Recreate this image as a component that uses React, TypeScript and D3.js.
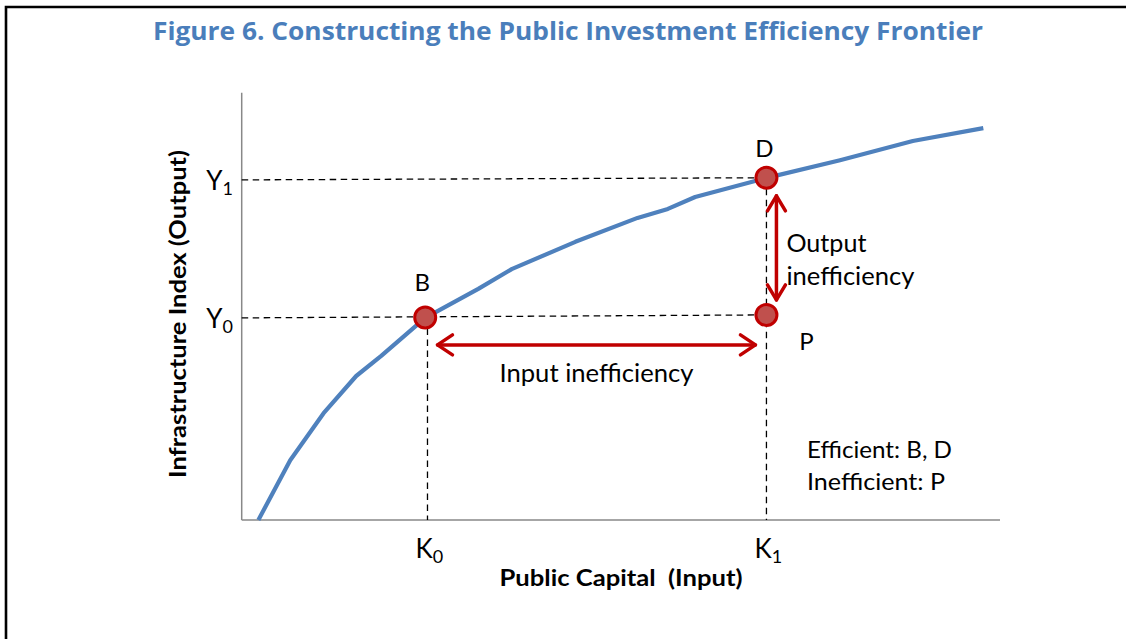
import React from "react";
import * as d3 from "d3";

// ---- data (abstract units) ----
const frontierX = [2.2, 6.4, 10.8, 15.1, 18.4, 24.2, 31.2, 35.6, 44.0, 52.2, 56.2, 59.8, 69.1, 78.9, 88.5, 97.8];
const frontierY = [0, 14.0, 25.0, 33.7, 38.4, 47.3, 54.1, 58.7, 65.1, 70.7, 72.8, 75.6, 80.0, 84.2, 88.7, 91.7];

const pointNames = ["B", "P", "D"];
const pointX = [24.2, 69.2, 69.2];
const pointY = [47.4, 48.0, 80.1];

const xTickNames = ["K", "K"];
const xTickSubs = ["0", "1"];
const xTickValues = [24.5, 69.2];
const yTickNames = ["Y", "Y"];
const yTickSubs = ["0", "1"];
const yTickValues = [47.3, 79.6];

const title = "Figure 6. Constructing the Public Investment Efficiency Frontier";
const xAxisTitle = "Public Capital  (Input)";
const yAxisTitle = "Infrastructure Index (Output)";
const legendLines = ["Efficient: B, D", "Inefficient: P"];

const W = 1126;
const H = 639;
const FONT = "Lato, 'Open Sans', sans-serif";
const RED = "#C00000";
const BLUE = "#4F81BD";

export default function App() {
  const x = d3.scaleLinear().domain([0, 100]).range([241.7, 1000]);
  const y = d3.scaleLinear().domain([0, 100]).range([520, 92.7]);

  const line = d3
    .line<number>()
    .x((_, i) => x(frontierX[i]))
    .y((_, i) => y(frontierY[i]))
    .curve(d3.curveLinear);

  const B = { x: x(pointX[0]), y: y(pointY[0]) };
  const P = { x: x(pointX[1]), y: y(pointY[1]) };
  const D = { x: x(pointX[2]), y: y(pointY[2]) };
  const K0 = x(xTickValues[0]);
  const K1 = x(xTickValues[1]);
  const Y0 = y(yTickValues[0]);
  const Y1 = y(yTickValues[1]);

  // input arrow
  const iaY = Y0 + 27;
  const iaX1 = K0 + 10;
  const iaX2 = K1 - 11;
  // output arrow
  const oaX = K1 + 10;
  const oaY1 = Y1 + 16;
  const oaY2 = P.y - 15;
  const ah = 15;
  const aw = 10;

  const dash = "6.5,4.5";

  return (
    <svg
      width={W}
      height={H}
      style={{ position: "absolute", left: 0, top: 0, background: "#fff" }}
    >
      <rect x={0} y={0} width={W} height={H} fill="#fff" />
      {/* frame */}
      <path d={`M6,${H} L6,7 L${W},7`} fill="none" stroke="#000" strokeWidth={2.6} />

      {/* title */}
      <text
        x={568}
        y={40}
        textAnchor="middle"
        fontFamily="'Open Sans', sans-serif"
        fontWeight="bold"
        fontSize={25}
        fill="#4A7EBB"
        textLength={830}
        lengthAdjust="spacingAndGlyphs"
      >
        {title}
      </text>

      {/* axes */}
      <line x1={x(0)} x2={x(0)} y1={y(100)} y2={y(0)} stroke="#888" strokeWidth={1.5} />
      <line x1={x(0)} x2={x(100)} y1={y(0)} y2={y(0)} stroke="#888" strokeWidth={1.5} />

      {/* dashed guides */}
      <g stroke="#000" strokeWidth={1.3} strokeDasharray={dash} fill="none">
        <line x1={x(0)} y1={Y1} x2={D.x} y2={D.y} />
        <line x1={x(0)} y1={Y0} x2={P.x} y2={P.y} />
        <line x1={K0} y1={B.y} x2={K0} y2={y(0)} />
        <line x1={K1} y1={D.y} x2={K1} y2={y(0)} />
      </g>

      {/* frontier */}
      <path d={line(frontierX) || ""} fill="none" stroke={BLUE} strokeWidth={4.2} strokeLinejoin="round" />

      {/* arrows */}
      <g stroke={RED} strokeWidth={3.5} fill="none" strokeLinecap="round" strokeLinejoin="round">
        <line x1={iaX1} y1={iaY} x2={iaX2} y2={iaY} />
        <path d={`M${iaX1 + ah},${iaY - aw} L${iaX1},${iaY} L${iaX1 + ah},${iaY + aw}`} />
        <path d={`M${iaX2 - ah},${iaY - aw} L${iaX2},${iaY} L${iaX2 - ah},${iaY + aw}`} />
        <line x1={oaX} y1={oaY1} x2={oaX} y2={oaY2} />
        <path d={`M${oaX - aw + 1},${oaY1 + ah} L${oaX},${oaY1} L${oaX + aw - 1},${oaY1 + ah}`} />
        <path d={`M${oaX - aw + 1},${oaY2 - ah} L${oaX},${oaY2} L${oaX + aw - 1},${oaY2 - ah}`} />
      </g>

      {/* points */}
      {pointNames.map((n, i) => (
        <circle
          key={n}
          cx={x(pointX[i])}
          cy={y(pointY[i])}
          r={10.5}
          fill="#C0504D"
          stroke={RED}
          strokeWidth={3}
        />
      ))}

      <g fontFamily={FONT} fontSize={25} fill="#000">
        {/* point labels */}
        <text x={B.x - 3} y={B.y - 26} textAnchor="middle" fontSize={24}>{pointNames[0]}</text>
        <text x={P.x + 40} y={P.y + 35} textAnchor="middle" fontSize={24}>{pointNames[1]}</text>
        <text x={D.x - 2} y={D.y - 21} textAnchor="middle" fontSize={24}>{pointNames[2]}</text>

        {/* annotations */}
        <text x={(iaX1 + iaX2) / 2} y={iaY + 37} textAnchor="middle" textLength={194} lengthAdjust="spacingAndGlyphs">
          Input inefficiency
        </text>
        <text x={oaX + 10} y={252} textLength={80} lengthAdjust="spacingAndGlyphs">Output</text>
        <text x={oaX + 10} y={285} textLength={128} lengthAdjust="spacingAndGlyphs">inefficiency</text>

        {/* legend */}
        <text x={807} y={458} fontSize={23} textLength={145} lengthAdjust="spacingAndGlyphs">{legendLines[0]}</text>
        <text x={807} y={490} fontSize={23} textLength={138} lengthAdjust="spacingAndGlyphs">{legendLines[1]}</text>

        {/* y ticks */}
        {yTickValues.map((v, i) => (
          <text key={"y" + i} x={233} y={y(v) + 10} textAnchor="end" fontSize={26}>
            {yTickNames[i]}
            <tspan fontSize={18} dy={5}>{yTickSubs[i]}</tspan>
          </text>
        ))}
        {/* x ticks */}
        {xTickValues.map((v, i) => (
          <text key={"x" + i} x={x(v) - 12} y={558} fontSize={26}>
            {xTickNames[i]}
            <tspan fontSize={18} dy={5}>{xTickSubs[i]}</tspan>
          </text>
        ))}
      </g>

      {/* axis titles */}
      <text
        x={621}
        y={586}
        textAnchor="middle"
        fontFamily={FONT}
        fontWeight="bold"
        fontSize={23}
        style={{ whiteSpace: "pre" }}
        textLength={243}
        lengthAdjust="spacingAndGlyphs"
      >
        {xAxisTitle}
      </text>
      <text
        transform={`translate(186,314) rotate(-90)`}
        textAnchor="middle"
        fontFamily={FONT}
        fontWeight="bold"
        fontSize={23}
        textLength={328}
        lengthAdjust="spacingAndGlyphs"
      >
        {yAxisTitle}
      </text>
    </svg>
  );
}
